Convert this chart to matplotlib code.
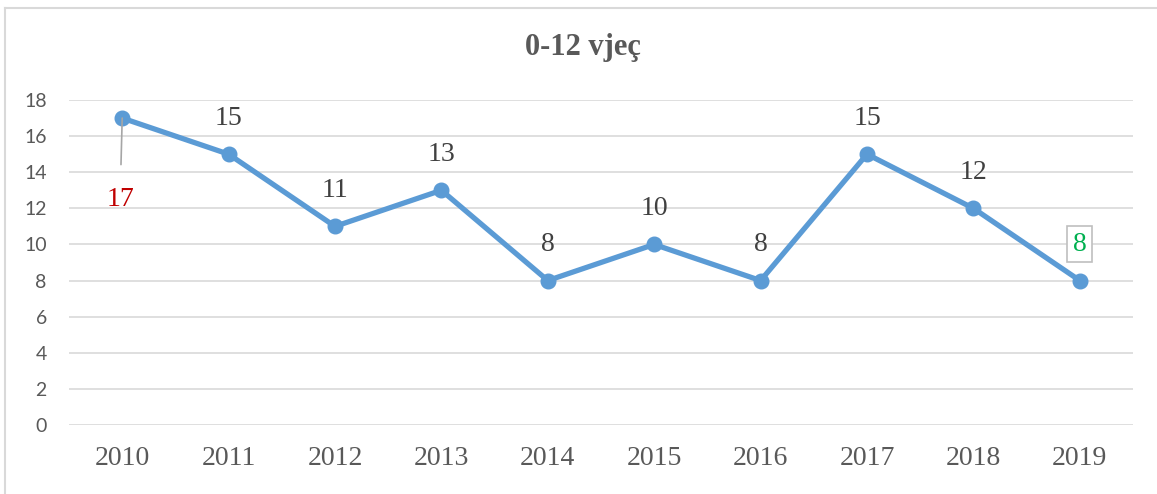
import matplotlib
matplotlib.use("Agg")
import matplotlib.pyplot as plt
from matplotlib.lines import Line2D

years = ["2010", "2011", "2012", "2013", "2014", "2015", "2016", "2017", "2018", "2019"]
values = [17, 15, 11, 13, 8, 10, 8, 15, 12, 8]
yticks = [0, 2, 4, 6, 8, 10, 12, 14, 16, 18]
title = "0-12 vjeç"

W, H = 1157, 494
fig = plt.figure(figsize=(W / 100, H / 100), dpi=100)
ax = fig.add_axes([69 / W, 69 / H, (1133 - 69) / W, (425 - 100) / H])

x = list(range(len(years)))
ax.plot(x, values, color="#5B9BD5", lw=3.8, marker="o", ms=10.5, zorder=3,
        solid_joinstyle="round")
ax.set_xlim(-0.5, len(years) - 0.5)
ax.set_ylim(0, 18)
ax.set_yticks(yticks)
ax.set_xticks(x)
serif = "Liberation Serif"
ax.set_xticklabels(years, family=serif, fontsize=20, color="#595959")
ax.set_yticklabels([str(t) for t in yticks], family="Lato", fontsize=14, color="#595959")
ax.tick_params(length=0)
ax.tick_params(axis="x", pad=15)
ax.tick_params(axis="y", pad=16)
ax.grid(axis="y", color="#D9D9D9", lw=1.2)
ax.set_axisbelow(True)
for s in ax.spines.values():
    s.set_visible(False)

for i, v in enumerate(values):
    if i == 0:
        ax.annotate(str(v), xy=(i, v), xytext=(i - 0.02, v - 4.5),
                    ha="center", va="center", fontsize=20, family=serif,
                    color="#C00000",
                    arrowprops=dict(arrowstyle="-", color="#A6A6A6", lw=1.2,
                                    shrinkA=14, shrinkB=0))
    elif i == len(values) - 1:
        ax.text(i, v + 2, str(v), ha="center", va="center", fontsize=20,
                family=serif, color="#00B050",
                bbox=dict(boxstyle="square,pad=0.2", fc="white", ec="#BFBFBF", lw=1.2))
    else:
        ax.text(i, v + 2, str(v), ha="center", va="center", fontsize=20,
                family=serif, color="#404040")

fig.text(583 / W, 1 - 48 / H, title, ha="center", va="center", fontsize=22,
         fontweight="bold", family=serif, color="#595959")

# outer chart border (partially visible)
fig.add_artist(Line2D([5 / W, 5 / W], [0, 1 - 8 / H], transform=fig.transFigure,
                      color="#D9D9D9", lw=1.5))
fig.add_artist(Line2D([5 / W, 1], [1 - 8 / H, 1 - 8 / H], transform=fig.transFigure,
                      color="#D9D9D9", lw=1.5))

fig.savefig("out.png", dpi=100)
